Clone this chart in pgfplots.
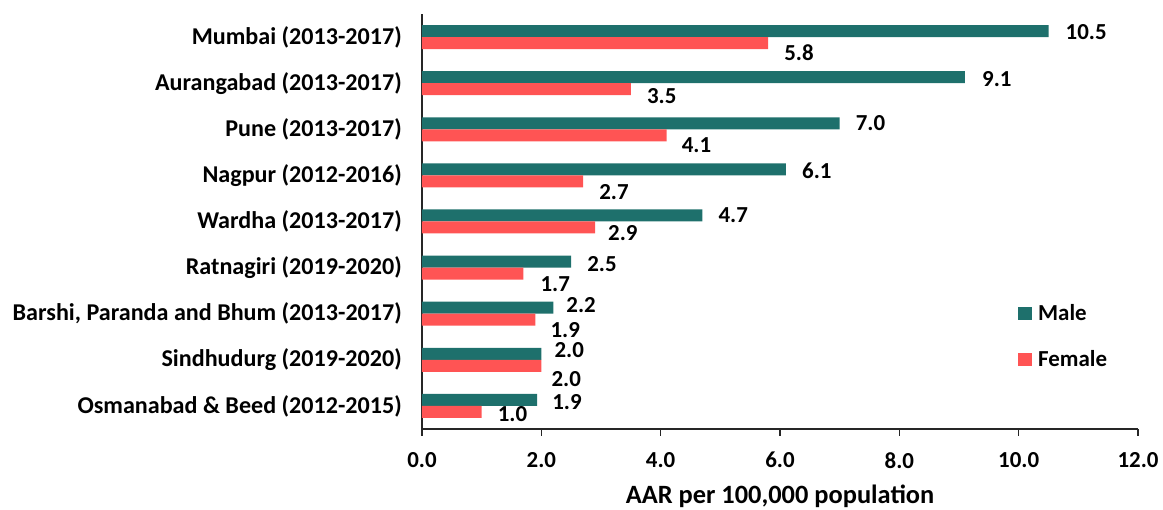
\documentclass[border=0pt]{standalone}
\usepackage{pgfplots}
\usepackage{pgfplotstable}
\pgfplotsset{compat=1.18}
\usepackage{fontspec}
\setmainfont{Carlito}
\definecolor{male}{RGB}{30,112,108}
\definecolor{female}{RGB}{255,84,84}
\pgfplotstableread{
x y dx dy
1.93 0 15 -2
2.0 1 13 3.5
2.2 2 13 3
2.5 3 16 -2.5
4.7 4 16 0
6.1 5 16 -1
7.0 6 16 0
9.1 7 17 -1.5
10.5 8 17 -1
}\maletab
\pgfplotstableread{
x y dx dy
1.0 0 16 -2
2.0 1 10 -13
1.9 2 15 -10
1.7 3 17 -10.5
2.9 4 13 -6
2.7 5 16 -11
4.1 6 15 -10
3.5 7 16 -7
5.8 8 16 -9.5
}\femaletab
\begin{document}
\begin{tikzpicture}
\begin{axis}[
  scale only axis, width=716bp, height=415bp,
  xbar, bar width=12bp,
  xmin=0, xmax=12, ymin=-0.5, ymax=8.5,
  axis x line*=bottom, axis y line*=left,
  axis line style={-, black!85, line width=1.2bp},
  xtick={0,2,...,12},
  tick align=outside, major tick length=7bp,
  x tick style={black!85, line width=1.2bp},
  y tick style={draw=none},
  ytick={0,...,8},
  yticklabels={Osmanabad \& Beed (2012-2015), Sindhudurg (2019-2020), {Barshi, Paranda and Bhum (2013-2017)}, Ratnagiri (2019-2020), Wardha (2013-2017), Nagpur (2012-2016), Pune (2013-2017), Aurangabad (2013-2017), Mumbai (2013-2017)},
  xticklabel style={font=\fontsize{23}{26}\selectfont\bfseries, inner sep=0pt, /pgf/number format/fixed, /pgf/number format/fixed zerofill, /pgf/number format/precision=1, /pgf/number format/assume math mode=true},
  yticklabel style={font=\fontsize{24.2}{27}\selectfont\bfseries, inner sep=0pt, xshift=-13bp},
  xticklabel shift=16bp,
  xlabel={AAR per 100,000 population},
  xlabel style={font=\fontsize{26.5}{30}\selectfont\bfseries, at={(axis description cs:0.5,0)}, anchor=center, yshift=-67bp},
  legend style={draw=none, fill=none, at={(rel axis cs:0.8324,0.30)}, anchor=north west, row sep=28bp, font=\fontsize{23}{26}\selectfont\bfseries, inner sep=0pt, nodes={inner sep=0pt}, /tikz/every odd column/.append style={column sep=6bp}},
  legend image code/.code={\fill[#1] (0bp,-6.5bp) rectangle (14bp,6.5bp);},
  legend cell align=left,
]
\addplot[draw=none, fill=male, bar shift=6bp,
  visualization depends on={\thisrow{dx}\as\dx},
  visualization depends on={\thisrow{dy}\as\dy},
  nodes near coords,
  nodes near coords style={font=\fontsize{23}{26}\selectfont\bfseries, inner sep=0pt, anchor=west, text=black, xshift=\dx bp, yshift=\dy bp, /pgf/number format/fixed, /pgf/number format/fixed zerofill, /pgf/number format/precision=1, /pgf/number format/assume math mode=true}]
  table[x=x, y=y] {\maletab};
\addlegendentry{Male}
\addplot[draw=none, fill=female, bar shift=-6bp,
  visualization depends on={\thisrow{dx}\as\dx},
  visualization depends on={\thisrow{dy}\as\dy},
  nodes near coords,
  nodes near coords style={font=\fontsize{23}{26}\selectfont\bfseries, inner sep=0pt, anchor=west, text=black, xshift=\dx bp, yshift=\dy bp, /pgf/number format/fixed, /pgf/number format/fixed zerofill, /pgf/number format/precision=1, /pgf/number format/assume math mode=true}]
  table[x=x, y=y] {\femaletab};
\addlegendentry{Female}
\end{axis}
\pgfresetboundingbox
\path ([xshift=-422bp,yshift=-81bp]current axis.south west) rectangle ([xshift=25bp,yshift=14bp]current axis.north east);
\end{tikzpicture}
\end{document}
